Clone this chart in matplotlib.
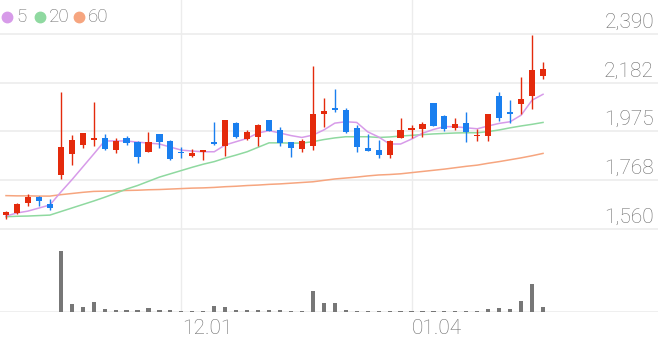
"""
Candlestick chart with 5/20/60 day moving averages and volume bars
"""
import matplotlib

matplotlib.use("Agg")
import matplotlib.pyplot as plt
import matplotlib.transforms as mtransforms
from matplotlib.lines import Line2D
import numpy as np


opens = [1619, 1627, 1668, 1696, 1665, 1789, 1878, 1917, 1937, 1945,
         1895, 1945, 1931, 1888, 1962, 1934, 1888, 1870, 1887, 1928,
         1914, 2012, 1942, 1949, 2022, 1979, 1928, 1900, 1914, 2047,
         2076, 2066, 1988, 1903, 1895, 1874, 1948, 1982, 1984, 2094,
         2042, 1988, 2009, 1955, 1955, 2125, 2059, 2091, 2125, 2209]
highs = [1636, 1669, 1709, 1699, 1688, 2144, 1959, 1968, 2099, 1962,
         1948, 1955, 1935, 1973, 1963, 1938, 1909, 1901, 1897, 2013,
         2023, 2014, 1979, 2006, 2023, 1994, 1928, 1941, 2253, 2118,
         2155, 2074, 2002, 1962, 1938, 1936, 2030, 2002, 2016, 2095,
         2044, 2030, 2058, 1984, 2049, 2144, 2110, 2207, 2386, 2270]
lows = [1602, 1623, 1657, 1657, 1640, 1773, 1830, 1905, 1914, 1895,
        1881, 1917, 1839, 1886, 1903, 1853, 1860, 1867, 1853, 1917,
        1870, 1946, 1938, 1912, 1976, 1914, 1867, 1888, 1895, 1995,
        2059, 1966, 1888, 1891, 1863, 1863, 1945, 1948, 1952, 1998,
        1978, 1980, 1928, 1934, 1934, 2020, 2012, 2049, 2072, 2198]
closes = [1632, 1665, 1696, 1679, 1647, 1907, 1938, 1966, 1945, 1898,
          1935, 1924, 1867, 1931, 1928, 1857, 1881, 1884, 1895, 1920,
          2023, 1949, 1973, 2002, 1976, 1924, 1903, 1934, 2050, 2061,
          2065, 1973, 1909, 1892, 1874, 1934, 1981, 1988, 2005, 1998,
          1984, 2005, 1973, 1961, 2049, 2030, 2049, 2113, 2238, 2242]

ma5 = [1614, 1627, 1635, 1648, 1661, 1716, 1768, 1823, 1878, 1934,
       1934, 1934, 1929, 1925, 1921, 1908, 1895, 1891, 1888, 1888,
       1917, 1931, 1945, 1968, 1978, 1968, 1957, 1949, 1959, 1981,
       2010, 2016, 2013, 1973, 1951, 1921, 1921, 1942, 1967, 1983,
       1995, 1995, 1990, 1986, 1998, 2009, 2016, 2044, 2108, 2133]
ma20 = [1611, 1613, 1614, 1616, 1618, 1633, 1648, 1663, 1678, 1694,
        1711, 1729, 1744, 1762, 1780, 1794, 1808, 1822, 1835, 1846,
        1861, 1874, 1888, 1907, 1926, 1926, 1925, 1925, 1931, 1940,
        1947, 1952, 1952, 1952, 1949, 1951, 1955, 1958, 1961, 1964,
        1966, 1968, 1969, 1969, 1974, 1981, 1990, 1998, 2005, 2013]
ma60 = [1701, 1700, 1700, 1699, 1699, 1705, 1710, 1715, 1719, 1720,
        1721, 1723, 1724, 1726, 1727, 1729, 1731, 1733, 1734, 1736,
        1739, 1741, 1744, 1746, 1749, 1751, 1754, 1757, 1760, 1766,
        1772, 1776, 1780, 1785, 1789, 1791, 1794, 1799, 1804, 1809,
        1814, 1820, 1826, 1831, 1839, 1846, 1854, 1862, 1871, 1881]

volumes = [5, 5, 5, 3, 5, 610, 83, 47, 103, 30,
           20, 20, 20, 37, 17, 20, 13, 10, 10, 57,
           50, 23, 17, 23, 20, 20, 13, 10, 207, 90,
           90, 17, 10, 10, 7, 7, 13, 10, 13, 13,
           10, 10, 13, 7, 30, 37, 30, 110, 280, 47]

price_ticks = [1560, 1768, 1975, 2182, 2390]
date_ticks = [16, 37]
date_labels = ["12.01", "01.04"]

ma_names = ["5", "20", "60"]
ma_colors = ["#d79be9", "#8fd9a0", "#f6a57f"]

UP = "#e42a0c"
DOWN = "#1a7fef"
GRID = "#ececec"
TEXT = "#6b6b6b"

plt.rcParams["font.family"] = ["Roboto", "DejaVu Sans"]

W, H = 658, 342
fig = plt.figure(figsize=(W / 100, H / 100), dpi=100)

# price panel: figure rows 0..240 px, 2390 sits at 34 px, 1560 at 228.7 px
px_per_unit = (228.7 - 34) / (2390 - 1560)
y_top = 2390 + 34 / px_per_unit
y_bot = 1560 - (240 - 228.7) / px_per_unit
ax = fig.add_axes([0, (H - 240) / H, 1, 240 / H])
vax = fig.add_axes([0, (H - 312) / H, 1, 72 / H])

n = len(closes)
x = np.arange(n)
step = 10.96
x_left = -6 / step
x_right = (W - 6) / step

for a in (ax, vax):
    a.set_xlim(x_left, x_right)
    a.axis("off")
    for t in date_ticks:
        a.axvline(t, color=GRID, lw=1, zorder=0)

ax.set_ylim(y_bot, y_top)
for p in price_ticks:
    ax.axhline(p, color=GRID, lw=1.2, zorder=0)
    ax.annotate(f"{p:,}", xy=(0.994, p), xycoords=("axes fraction", "data"),
                xytext=(0, 4.5), textcoords="offset points", ha="right",
                va="baseline", fontsize=15, color=TEXT, fontweight="light")

# moving averages
for vals, c in zip([ma60, ma20, ma5], ma_colors[::-1]):
    ax.plot(x, vals, color=c, lw=1.1, zorder=2)

# candles
o = np.array(opens)
c = np.array(closes)
colors = np.where(c >= o, UP, DOWN)
ax.vlines(x, lows, highs, colors=colors, lw=1.0, zorder=3)
body_lo = np.minimum(o, c)
body_h = np.maximum(np.abs(c - o), 1.5)
ax.bar(x, body_h, bottom=body_lo, width=0.56, color=colors, zorder=4)

# volume
vmax = max(volumes)
vax.set_ylim(0, vmax * 72 / 61)
vax.axhline(0, color=GRID, lw=1.2, zorder=0)
vax.bar(x, volumes, width=0.38, color="#777777", zorder=2)

for t, lab in zip(date_ticks, date_labels):
    vax.text(t + 0.05, -17 / 72, lab, transform=mtransforms.blended_transform_factory(vax.transData, vax.transAxes),
             ha="left", va="center", fontsize=15, color=TEXT, fontweight="light")

# legend
lx = [7, 40, 79]
for px, name, col in zip(lx, ma_names, ma_colors):
    fig.add_artist(Line2D([px / W], [1 - 17 / H], transform=fig.transFigure,
                          marker="o", markersize=7.5, color=col, linestyle="none"))
    fig.text((px + 9) / W, 1 - 17 / H, name, ha="left", va="center",
             fontsize=13.5, color=TEXT, fontweight="light")

fig.savefig("out.png", dpi=100)
